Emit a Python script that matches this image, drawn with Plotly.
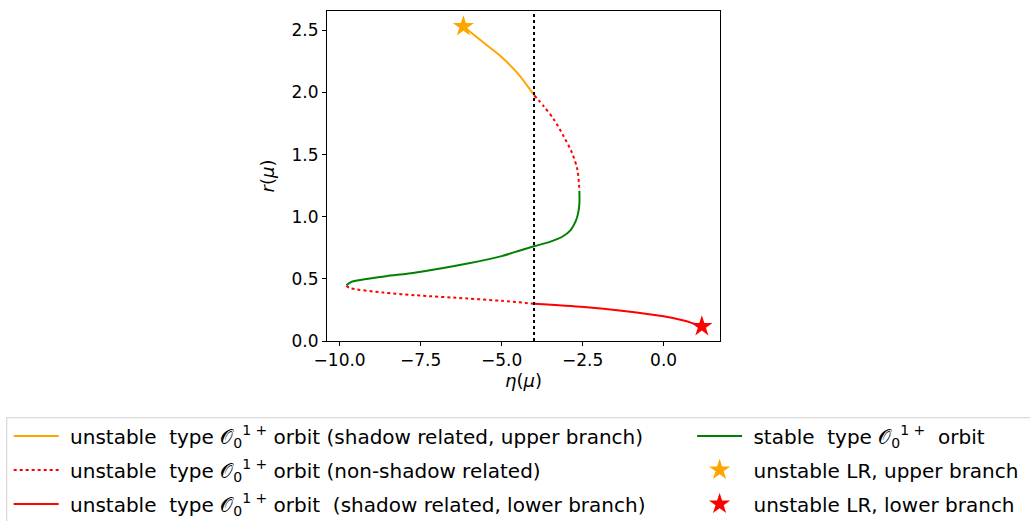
import plotly.graph_objects as go

# Branch data: eta(mu) on x, r(mu) on y
eta_upper = [-6.18, -5.54, -5.02, -4.51, -3.99]
r_upper = [2.532, 2.398, 2.29, 2.156, 1.976]

eta_nonshadow_top = [-3.99, -3.69, -3.38, -3.08, -2.82, -2.66, -2.60]
r_nonshadow_top = [1.976, 1.887, 1.78, 1.645, 1.51, 1.377, 1.21]

eta_stable = [-2.60, -2.60, -2.64, -2.72, -2.87, -3.13, -3.49, -3.98, -4.41, -5.0,
              -6.05, -7.64, -8.56, -9.28, -9.64, -9.79]
r_stable = [1.21, 1.108, 1.027, 0.96, 0.893, 0.839, 0.80, 0.764, 0.731, 0.683,
            0.624, 0.552, 0.522, 0.495, 0.476, 0.449]

eta_nonshadow_low = [-9.79, -9.69, -8.66, -7.64, -6.05, -5.0, -3.99]
r_nonshadow_low = [0.445, 0.427, 0.39, 0.368, 0.342, 0.323, 0.30]

eta_lower = [-3.99, -2.46, -1.23, 0.0, 0.62, 1.18]
r_lower = [0.30, 0.274, 0.242, 0.199, 0.165, 0.118]

eta_lr_upper, r_lr_upper = [-6.18], [2.532]
eta_lr_lower, r_lr_lower = [1.18], [0.118]

eta_critical = -4.0

x_ticks = [-10.0, -7.5, -5.0, -2.5, 0.0]
y_ticks = [0.0, 0.5, 1.0, 1.5, 2.0, 2.5]

ORANGE = "#FFA500"
RED = "#FF0000"
GREEN = "#008000"
FONT = "DejaVu Sans"
ORB = "type 𝒪<sub>0</sub><sup>1 +</sup>"
PAD = "\u00a0"

fig = go.Figure()

def curve(x, y, color, dash="solid", **kw):
    return go.Scatter(x=x, y=y, mode="lines",
                      line=dict(color=color, width=2, dash=dash, shape="spline", smoothing=0.8),
                      **kw)

fig.add_trace(curve(eta_upper, r_upper, ORANGE,
                    name=f"{PAD}unstable  {ORB} orbit (shadow related, upper branch)",
                    legend="legend", legendgroup="a"))
fig.add_trace(curve(eta_nonshadow_top, r_nonshadow_top, RED, "dot",
                    name=f"{PAD}unstable  {ORB} orbit (non-shadow related)",
                    legend="legend", legendgroup="b"))
fig.add_trace(curve(eta_nonshadow_low, r_nonshadow_low, RED, "dot",
                    showlegend=False, legendgroup="b"))
fig.add_trace(curve(eta_lower, r_lower, RED,
                    name=f"{PAD}unstable  {ORB} orbit  (shadow related, lower branch)",
                    legend="legend", legendgroup="c"))
fig.add_trace(curve(eta_stable, r_stable, GREEN,
                    name=f"{PAD}stable  {ORB}  orbit",
                    legend="legend2", legendgroup="d"))
fig.add_trace(go.Scatter(
    x=eta_lr_upper, y=r_lr_upper, mode="markers",
    marker=dict(symbol="star", size=16, color=ORANGE, line=dict(width=0)),
    name=f"{PAD}unstable LR, upper branch",
    legend="legend2", legendgroup="e",
))
fig.add_trace(go.Scatter(
    x=eta_lr_lower, y=r_lr_lower, mode="markers",
    marker=dict(symbol="star", size=16, color=RED, line=dict(width=0)),
    name=f"{PAD}unstable LR, lower branch",
    legend="legend2", legendgroup="f",
))

# vertical reference line at the critical eta
fig.add_shape(type="line", xref="x", yref="paper", x0=eta_critical, x1=eta_critical,
              y0=0, y1=1, line=dict(color="black", width=2, dash="dot"))

# frame around both legend columns
fig.add_shape(type="rect", xref="paper", yref="paper", x0=-0.815, x1=1.9, y0=-0.232, y1=-0.75,
              line=dict(color="#d9d9d9", width=1.2), fillcolor="rgba(0,0,0,0)", layer="below")

axis_common = dict(
    showgrid=False, zeroline=False, showline=True, linecolor="black", linewidth=1,
    mirror=True, ticks="outside", ticklen=4, tickwidth=1, tickcolor="black",
    tickfont=dict(family=FONT, size=17, color="black"), tickformat=".1f",
)

legend_common = dict(
    orientation="v", bgcolor="rgba(0,0,0,0)", borderwidth=0,
    font=dict(family=FONT, size=20, color="black"),
    tracegroupgap=5, itemwidth=45, yanchor="top", xanchor="left",
)

fig.update_layout(
    width=1030, height=521,
    margin=dict(l=327, r=310, t=11, b=180, autoexpand=False),
    paper_bgcolor="white", plot_bgcolor="white",
    font=dict(family=FONT, color="black"),
    xaxis=dict(axis_common, range=[-10.39, 1.74], tickvals=x_ticks,
               title=dict(text="<i>η</i>(<i>μ</i>)", font=dict(family=FONT, size=18), standoff=4)),
    yaxis=dict(axis_common, range=[0, 2.656], tickvals=y_ticks,
               title=dict(text="<i>r</i>(<i>μ</i>)", font=dict(family=FONT, size=18), standoff=12)),
    legend=dict(legend_common, x=-0.81, y=-0.2286),
    legend2=dict(legend_common, x=0.929, y=-0.2286),
)

fig.write_html("out.html")
